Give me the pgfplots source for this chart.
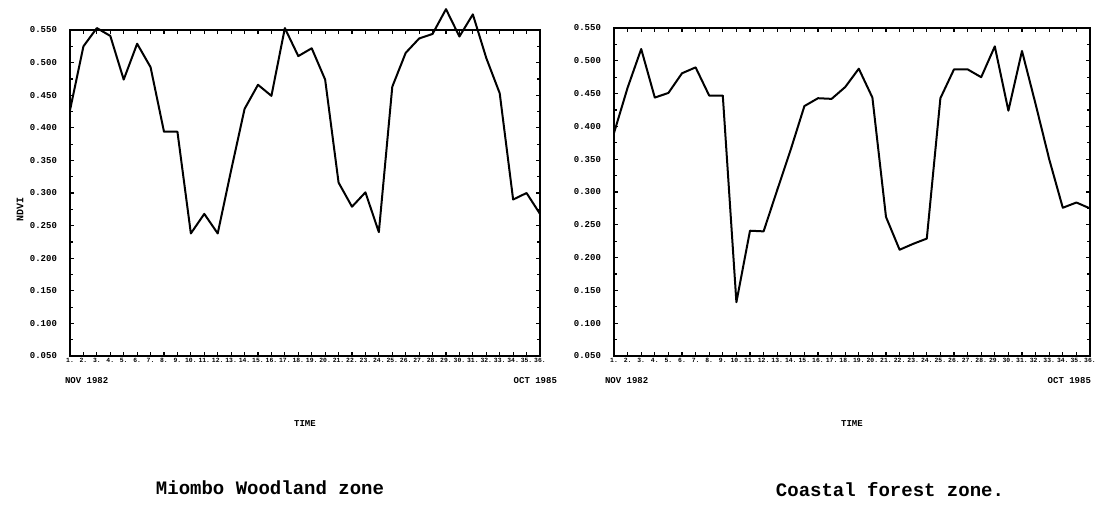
\documentclass[border=0pt]{standalone}
\usepackage{pgfplots}
\pgfplotsset{compat=1.18}
\usepackage{fontspec}
\setmainfont{Liberation Serif}
\setmonofont{Liberation Mono}

% NDVI, monthly, Nov 1982 - Oct 1985 (months 1..36)
\pgfplotstableread{
m ndvi
1 0.427
2 0.525
3 0.553
4 0.541
5 0.474
6 0.529
7 0.493
8 0.394
9 0.394
10 0.238
11 0.268
12 0.238
13 0.335
14 0.429
15 0.466
16 0.449
17 0.553
18 0.510
19 0.522
20 0.474
21 0.316
22 0.279
23 0.301
24 0.240
25 0.463
26 0.515
27 0.537
28 0.544
29 0.582
30 0.540
31 0.574
32 0.507
33 0.453
34 0.290
35 0.300
36 0.268
}\miombo

\pgfplotstableread{
m ndvi
1 0.390
2 0.459
3 0.518
4 0.444
5 0.451
6 0.481
7 0.490
8 0.447
9 0.447
10 0.132
11 0.241
12 0.240
13 0.303
14 0.365
15 0.431
16 0.443
17 0.442
18 0.460
19 0.488
20 0.444
21 0.262
22 0.212
23 0.221
24 0.229
25 0.443
26 0.487
27 0.487
28 0.475
29 0.522
30 0.424
31 0.515
32 0.434
33 0.350
34 0.276
35 0.284
36 0.275
}\coastal

\pgfplotsset{
  ndvibox/.style={
    scale only axis,
    anchor=south west,
    clip=false,
    xmin=1, xmax=36,
    ymin=0.05, ymax=0.55,
    xtick={1,...,36},
    ytick={0.05,0.10,...,0.56},
    minor y tick num=1,
    tick align=inside,
    major tick length=2.2pt,
    minor tick length=1.4pt,
    axis line style={line width=1pt},
    every tick/.style={black, line width=0.6pt},
    yticklabel style={font=\fontsize{4.5}{4.5}\selectfont\ttfamily\bfseries,
      xshift=-3pt,
      /pgf/number format/.cd, fixed, fixed zerofill, precision=3,
      assume math mode=true},
    xticklabel={\pgfmathparse{int(\tick)}\pgfmathresult.},
    xticklabel style={font=\fontsize{3.2}{3.2}\selectfont\ttfamily\bfseries,
      inner sep=1pt},
  },
  ndviline/.style={black, no marks, line width=1pt, line join=round},
}

\begin{document}
\begin{tikzpicture}
  % Miombo Woodland zone
  \begin{axis}[ndvibox, at={(35pt,-178pt)}, width=235pt, height=163pt]
    \addplot[ndviline] table[x=m, y=ndvi] {\miombo};
    \node[font=\fontsize{4.5}{4.5}\selectfont\ttfamily\bfseries, anchor=north west]
      at ([yshift=-7pt, xshift=-6pt]rel axis cs:0,0) {NOV 1982};
    \node[font=\fontsize{4.5}{4.5}\selectfont\ttfamily\bfseries, anchor=north east]
      at ([yshift=-7pt, xshift=12pt]rel axis cs:1,0) {OCT 1985};
    \node[font=\fontsize{4.5}{4.5}\selectfont\ttfamily\bfseries]
      at ([yshift=-34pt]rel axis cs:0.5,0) {TIME};
    \node[font=\fontsize{5}{5}\selectfont\ttfamily\bfseries, rotate=90]
      at ([xshift=-25pt]rel axis cs:0,0.45) {NDVI};
  \end{axis}
  % Coastal forest zone
  \begin{axis}[ndvibox, at={(307pt,-178pt)}, width=238pt, height=164pt]
    \addplot[ndviline] table[x=m, y=ndvi] {\coastal};
    \node[font=\fontsize{4.5}{4.5}\selectfont\ttfamily\bfseries, anchor=north west]
      at ([yshift=-7pt, xshift=-8pt]rel axis cs:0,0) {NOV 1982};
    \node[font=\fontsize{4.5}{4.5}\selectfont\ttfamily\bfseries, anchor=north east]
      at ([yshift=-7pt, xshift=4pt]rel axis cs:1,0) {OCT 1985};
    \node[font=\fontsize{4.5}{4.5}\selectfont\ttfamily\bfseries]
      at ([yshift=-34pt]rel axis cs:0.5,0) {TIME};
  \end{axis}
  % zone captions
  \node[font=\fontsize{9.5}{9.5}\selectfont\ttfamily\bfseries] at (135pt,-244pt)
    {Miombo Woodland zone};
  \node[font=\fontsize{9.5}{9.5}\selectfont\ttfamily\bfseries] at (445pt,-245pt)
    {Coastal forest zone.};
  \pgfresetboundingbox
  \path[use as bounding box] (0,0) rectangle (558pt,-263pt);
\end{tikzpicture}
\end{document}
